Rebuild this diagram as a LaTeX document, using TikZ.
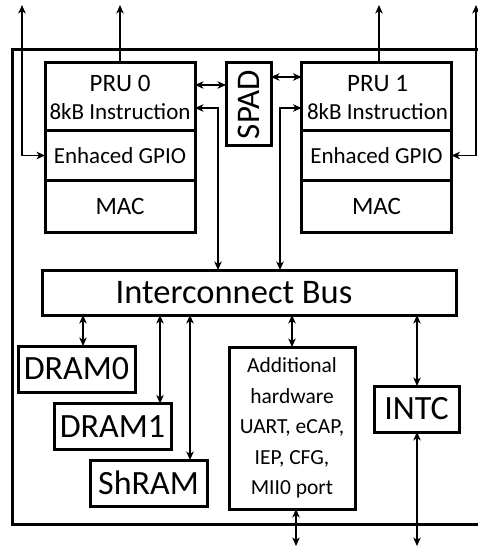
\documentclass[tikz,border=0pt]{standalone}
\usepackage{fontspec}
\setmainfont{Carlito}
\usetikzlibrary{arrows.meta}
\begin{document}
\begin{tikzpicture}[x=1pt,y=-1pt,
  blk/.style={draw, line width=3pt, inner sep=0pt, outer sep=0pt, align=center},
  tip/.tip={Stealth[length=8.5pt,width=7.5pt,inset=2.5pt]},
  conn/.style={line width=1.9pt, tip-tip},
  outconn/.style={line width=1.9pt, -tip},
  frame/.style={line width=3pt},
  pruhead/.style={blk, minimum width=150pt, minimum height=68pt},
  prugpio/.style={blk, minimum width=150pt, minimum height=49pt,
    font=\fontsize{23}{28}\selectfont},
  prumac/.style={blk, minimum width=150pt, minimum height=52pt,
    font=\fontsize{25}{28}\selectfont},
  pruname/.style={anchor=base, inner sep=0pt, font=\fontsize{25}{28}\selectfont},
  pruinstr/.style={anchor=base, inner sep=0pt, font=\fontsize{23}{28}\selectfont},
  mem/.style={blk, minimum width=117pt, minimum height=46pt,
    font=\fontsize{34}{38}\selectfont}
]
\useasboundingbox (0,0) rectangle (478,548);
\clip (0,0) rectangle (478,548);

% enclosing subsystem frame (its right side runs past the edge)
\draw[frame] (12,50) rectangle (500,524);

% PRU 0
\node[pruhead] (pru0a) at (120,97) {};
\node[pruname]  (pru0n) at (120,92)  {PRU 0};
\node[pruinstr] (pru0i) at (120,120) {8kB Instruction};
\node[prugpio] (pru0g) at (120,155.5) {Enhaced GPIO};
\node[prumac]  (pru0m) at (120,206)   {MAC};

% PRU 1
\node[pruhead] (pru1a) at (376.5,97) {};
\node[pruname]  (pru1n) at (377.5,92)  {PRU 1};
\node[pruinstr] (pru1i) at (377.5,120) {8kB Instruction};
\node[prugpio] (pru1g) at (376.5,155.5) {Enhaced GPIO};
\node[prumac]  (pru1m) at (376.5,206)   {MAC};

% scratch pad
\node[blk, minimum width=45pt, minimum height=83pt] (spad) at (248.5,104.5)
  {\rotatebox{90}{\fontsize{33}{36}\selectfont SPAD}};

% interconnect bus (label sits a little left of centre)
\node[blk, minimum width=414pt, minimum height=45pt,
  font=\fontsize{34.5}{38}\selectfont] (bus) at (249,292.5)
  {Interconnect Bus\hspace*{30pt}};

% memories
\node[mem] (dram0) at (76.5,369)   {DRAM0};
\node[mem] (dram1) at (112.5,426.5) {DRAM1};
\node[mem] (shram) at (148.5,483)   {ShRAM};

% peripherals
\node[blk, minimum width=126pt, minimum height=162pt,
  font=\fontsize{21.5}{30.5}\selectfont] (addl) at (292,428)
  {Additional\\hardware\\UART, eCAP,\\IEP, CFG,\\MII0 port};
\node[blk, minimum width=85pt, minimum height=46pt,
  font=\fontsize{34}{38}\selectfont] (intc) at (416.5,409) {INTC};

% external pins
\coordinate (ext0)  at (22,5);
\coordinate (out0)  at (120,5);
\coordinate (out1)  at (379,5);
\coordinate (ext1)  at (476,5);
\coordinate (mii)   at (296,546);
\coordinate (irq)   at (417,546);

% PRU outputs and GPIO links
\draw[outconn] (pru0a.north) -- (out0);
\draw[outconn] (pru1a.north -| out1) -- (out1);
\draw[conn] (ext0) |- (pru0g.west);
\draw[conn] (ext1) |- (pru1g.east);

% scratch pad links
\draw[conn] (pru0a.east |- 0,85) -- (spad.west |- 0,85);
\draw[conn] (spad.east |- 0,77) -- (pru1a.west |- 0,77);

% PRUs to bus
\draw[conn] (bus.north -| 218,0) |- (pru0a.east |- 0,108);
\draw[conn] (bus.north -| 280,0) |- (pru1a.west |- 0,108);

% bus to memories and peripherals
\draw[conn] (bus.south -| 83,0)  -- (dram0.north -| 83,0);
\draw[conn] (bus.south -| 160,0) -- (dram1.north -| 160,0);
\draw[conn] (bus.south -| 190,0) -- (shram.north -| 190,0);
\draw[conn] (bus.south -| addl.north) -- (addl.north);
\draw[conn] (bus.south -| 417,0) -- (intc.north -| 417,0);

% external peripheral and interrupt lines
\draw[conn] (addl.south -| mii) -- (mii);
\draw[conn] (intc.south -| irq) -- (irq);
\end{tikzpicture}
\end{document}
